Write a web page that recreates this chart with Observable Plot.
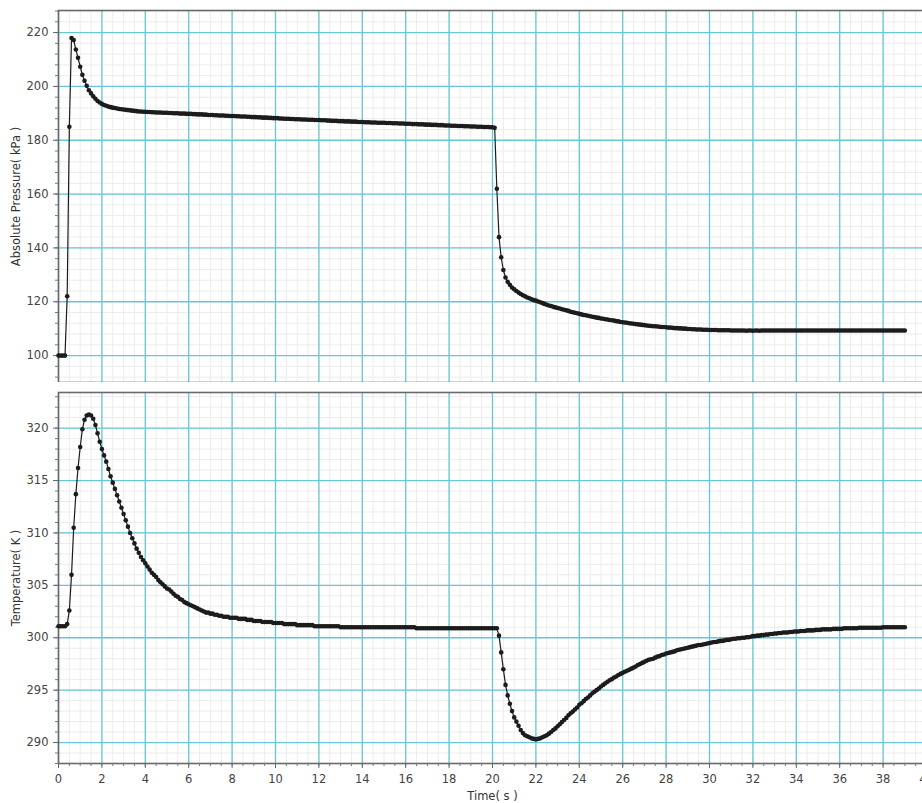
<!DOCTYPE html>
<html>
<head>
<meta charset="utf-8">
<script src="https://cdn.jsdelivr.net/npm/d3@7"></script>
<script src="https://cdn.jsdelivr.net/npm/@observablehq/plot@0.6"></script>
<style>
  html, body { margin: 0; padding: 0; background: #fff; overflow: hidden; }
  #chart { width: 922px; overflow: hidden; }
  #chart svg { display: block; max-width: none !important; }
</style>
</head>
<body>
<div id="chart"></div>
<script>
// ---- data (sampling interval 0.1 s, t = 0 … 39 s) ----
const sampleInterval = 0.1;

// Absolute pressure (kPa), one row per second
const pressure = [
  100,100,100,100,122,185,218,217.2,213.7,210.6,
  207.3,204.3,202.1,200.2,198.6,197.4,196.3,195.4,194.6,194.0,
  193.5,193.1,192.8,192.5,192.3,192.1,192.0,191.8,191.6,191.5,
  191.4,191.3,191.2,191.1,191.0,190.9,190.8,190.7,190.7,190.6,
  190.6,190.5,190.5,190.4,190.4,190.3,190.3,190.3,190.2,190.2,
  190.2,190.1,190.1,190.0,190.0,190.0,189.9,189.9,189.9,189.8,
  189.8,189.8,189.7,189.7,189.6,189.6,189.6,189.5,189.5,189.4,
  189.4,189.4,189.3,189.3,189.2,189.2,189.2,189.1,189.1,189.0,
  189.0,189.0,188.9,188.9,188.8,188.8,188.8,188.7,188.7,188.6,
  188.6,188.6,188.5,188.5,188.4,188.4,188.4,188.3,188.3,188.2,
  188.2,188.2,188.1,188.1,188.0,188.0,188.0,187.9,187.9,187.8,
  187.8,187.8,187.7,187.7,187.7,187.6,187.6,187.6,187.5,187.5,
  187.5,187.4,187.4,187.4,187.3,187.3,187.2,187.2,187.2,187.1,
  187.1,187.1,187.0,187.0,187.0,186.9,186.9,186.9,186.8,186.8,
  186.8,186.7,186.7,186.7,186.6,186.6,186.6,186.5,186.5,186.5,
  186.5,186.4,186.4,186.4,186.3,186.3,186.3,186.2,186.2,186.2,
  186.1,186.1,186.1,186.0,186.0,186.0,185.9,185.9,185.9,185.8,
  185.8,185.8,185.7,185.7,185.7,185.6,185.6,185.6,185.5,185.5,
  185.5,185.4,185.4,185.4,185.3,185.3,185.3,185.2,185.2,185.2,
  185.1,185.1,185.1,185.0,185.0,185.0,184.9,184.9,184.9,184.8,
  184.8,184.6,162,144,136.5,131.8,129.0,127.4,126.3,125.3,
  124.6,124.0,123.4,122.9,122.4,122.0,121.6,121.3,120.9,120.6,
  120.4,120.1,119.8,119.5,119.2,118.9,118.6,118.4,118.1,117.9,
  117.7,117.5,117.2,117.0,116.8,116.6,116.3,116.1,115.9,115.7,
  115.5,115.3,115.1,115.0,114.8,114.6,114.4,114.3,114.1,114.0,
  113.8,113.7,113.5,113.4,113.2,113.1,113.0,112.8,112.7,112.5,
  112.4,112.3,112.2,112.0,111.9,111.8,111.7,111.6,111.5,111.4,
  111.3,111.2,111.1,111.0,110.9,110.9,110.8,110.7,110.6,110.6,
  110.5,110.4,110.4,110.3,110.2,110.2,110.1,110.1,110.0,110.0,
  109.9,109.9,109.8,109.8,109.7,109.7,109.7,109.6,109.6,109.6,
  109.5,109.5,109.5,109.5,109.4,109.4,109.4,109.4,109.4,109.4,
  109.3,109.3,109.3,109.3,109.3,109.3,109.3,109.2,109.3,109.3,
  109.2,109.3,109.3,109.2,109.3,109.3,109.3,109.3,109.3,109.3,
  109.3,109.3,109.3,109.3,109.3,109.3,109.3,109.3,109.3,109.3,
  109.3,109.3,109.3,109.3,109.3,109.3,109.3,109.3,109.3,109.3,
  109.3,109.3,109.3,109.3,109.3,109.3,109.3,109.3,109.3,109.3,
  109.3,109.3,109.3,109.3,109.3,109.3,109.3,109.3,109.3,109.3,
  109.3,109.3,109.3,109.3,109.3,109.3,109.3,109.3,109.3,109.3,
  109.3,109.3,109.3,109.3,109.3,109.3,109.3,109.3,109.3,109.3,
  109.3
];

// Temperature (K), one row per second
const temperature = [
  301.1,301.1,301.1,301.1,301.3,302.6,306.0,310.5,313.7,316.2,
  318.2,319.9,320.8,321.2,321.3,321.2,320.9,320.3,319.5,318.7,
  318.0,317.4,316.8,316.1,315.4,314.8,314.2,313.6,313.0,312.4,
  311.8,311.2,310.6,310.0,309.5,309.0,308.5,308.1,307.7,307.4,
  307.1,306.8,306.5,306.2,306.0,305.8,305.5,305.3,305.1,304.9,
  304.7,304.6,304.4,304.2,304.0,303.9,303.7,303.6,303.4,303.3,
  303.2,303.1,303.0,302.9,302.8,302.7,302.6,302.5,302.4,302.4,
  302.3,302.3,302.2,302.2,302.1,302.1,302.0,302.0,302.0,301.9,
  301.9,301.9,301.9,301.8,301.8,301.8,301.8,301.7,301.7,301.7,
  301.6,301.6,301.6,301.6,301.5,301.5,301.5,301.5,301.5,301.4,
  301.4,301.4,301.4,301.4,301.3,301.3,301.3,301.3,301.3,301.3,
  301.2,301.2,301.2,301.2,301.2,301.2,301.2,301.2,301.1,301.1,
  301.1,301.1,301.1,301.1,301.1,301.1,301.1,301.1,301.1,301.1,
  301.0,301.0,301.0,301.0,301.0,301.0,301.0,301.0,301.0,301.0,
  301.0,301.0,301.0,301.0,301.0,301.0,301.0,301.0,301.0,301.0,
  301.0,301.0,301.0,301.0,301.0,301.0,301.0,301.0,301.0,301.0,
  301.0,301.0,301.0,301.0,301.0,300.9,300.9,300.9,300.9,300.9,
  300.9,300.9,300.9,300.9,300.9,300.9,300.9,300.9,300.9,300.9,
  300.9,300.9,300.9,300.9,300.9,300.9,300.9,300.9,300.9,300.9,
  300.9,300.9,300.9,300.9,300.9,300.9,300.9,300.9,300.9,300.9,
  300.9,300.9,300.9,300.2,298.6,297.0,295.5,294.5,293.7,293.0,
  292.4,292.0,291.6,291.2,290.9,290.7,290.6,290.5,290.4,290.35,
  290.3,290.35,290.4,290.5,290.6,290.7,290.85,291.0,291.2,291.35,
  291.55,291.75,291.95,292.15,292.35,292.6,292.8,292.95,293.15,293.35,
  293.6,293.75,293.95,294.15,294.3,294.5,294.7,294.85,295.0,295.15,
  295.35,295.5,295.65,295.8,295.95,296.05,296.2,296.3,296.45,296.55,
  296.65,296.75,296.85,296.95,297.05,297.15,297.25,297.4,297.5,297.6,
  297.7,297.8,297.9,297.95,298.0,298.1,298.2,298.25,298.35,298.4,
  298.5,298.55,298.6,298.65,298.7,298.8,298.85,298.9,298.95,299.0,
  299.05,299.1,299.15,299.2,299.25,299.3,299.3,299.35,299.4,299.45,
  299.5,299.55,299.6,299.6,299.65,299.7,299.7,299.75,299.8,299.8,
  299.85,299.9,299.9,299.95,299.95,300.0,300.0,300.05,300.05,300.1,
  300.15,300.15,300.2,300.2,300.25,300.25,300.3,300.3,300.35,300.35,
  300.4,300.4,300.45,300.45,300.5,300.5,300.5,300.55,300.55,300.6,
  300.6,300.6,300.65,300.65,300.65,300.7,300.7,300.7,300.7,300.75,
  300.75,300.75,300.8,300.8,300.8,300.8,300.8,300.85,300.85,300.85,
  300.85,300.85,300.9,300.9,300.9,300.9,300.9,300.9,300.9,300.95,
  300.95,300.95,300.95,300.95,300.95,300.95,300.95,300.95,300.95,300.95,
  301.0,301.0,301.0,301.0,301.0,301.0,301.0,301.0,301.0,301.0,
  301.0
];

// tick labels
const timeTicks = [0,2,4,6,8,10,12,14,16,18,20,22,24,26,28,30,32,34,36,38,40];
const pressureTicks = [100,120,140,160,180,200,220];
const temperatureTicks = [290,295,300,305,310,315,320];

// axis titles
const timeLabel = "Time( s )";
const pressureLabel = "Absolute Pressure( kPa )";
const temperatureLabel = "Temperature( K )";

// minor grid subdivisions
const timeMinor = d3.range(0, 40.001, 0.5);
const pressureMinor = d3.range(92, 228.001, 4);
const temperatureMinor = d3.range(288, 323.001, 1);

// ---- build ----
const rows = pressure.map((p, i) => ({
  t: +(i * sampleInterval).toFixed(2),
  p,
  T: temperature[i]
}));

const INK = "#1c1c1c";
const CYAN = "#66c8d7";
const MINOR = "#ececec";
const FRAME = "#6a6a6a";
const FONT = "'DejaVu Sans', Verdana, sans-serif";
const FS = 11.5;

function panel({height, marginTop, marginBottom, yDomain, yMajor, yMinor, yKey, yLabel, showX}) {
  const marks = [
    Plot.gridX(timeMinor, {stroke: MINOR, strokeOpacity: 1, strokeWidth: 1}),
    Plot.gridY(yMinor, {stroke: MINOR, strokeOpacity: 1, strokeWidth: 1}),
    Plot.gridX(timeTicks, {stroke: CYAN, strokeOpacity: 1, strokeWidth: 1.3}),
    Plot.gridY(yMajor, {stroke: CYAN, strokeOpacity: 1, strokeWidth: 1.3}),
    Plot.frame({stroke: FRAME, strokeWidth: 1.6}),
    Plot.axisY(yMinor, {tickSize: 3, tickFormat: () => "", stroke: "#777", label: null}),
    Plot.axisY(yMajor, {tickSize: 5, tickPadding: 5, stroke: "#666", fill: "#444", fontSize: FS, label: null}),
    Plot.line(rows, {x: "t", y: yKey, stroke: INK, strokeWidth: 1.2}),
    Plot.dot(rows, {x: "t", y: yKey, r: 2.3, symbol: "circle", fill: INK, stroke: "none"}),
    Plot.text([yLabel], {text: d => d, frameAnchor: "left", textAnchor: "middle", lineAnchor: "middle", dx: -42, rotate: -90, fontSize: FS, fill: "#333"})
  ];
  if (showX) {
    marks.push(
      Plot.axisX(timeMinor, {tickSize: 3, tickFormat: () => "", stroke: "#777", label: null}),
      Plot.axisX(timeTicks, {tickSize: 5, tickPadding: 6, stroke: "#666", fill: "#444", fontSize: FS, label: null}),
      Plot.text([timeLabel], {text: d => d, frameAnchor: "bottom", textAnchor: "middle", lineAnchor: "middle", dy: 33, fontSize: FS, fill: "#333"})
    );
  }
  return Plot.plot({
    width: 927,
    height,
    marginLeft: 58,
    marginRight: 1,
    marginTop,
    marginBottom,
    style: {fontFamily: FONT, fontSize: FS + "px", color: "#444", background: "#fff", maxWidth: "none"},
    x: {domain: [0, 40], axis: showX ? undefined : null, label: null},
    y: {domain: yDomain, label: null},
    marks
  });
}

const chart = document.getElementById("chart");
chart.append(panel({
  height: 382, marginTop: 10, marginBottom: 0,
  yDomain: [90, 228.2], yMajor: pressureTicks, yMinor: pressureMinor,
  yKey: "p", yLabel: pressureLabel, showX: false
}));
chart.append(panel({
  height: 421, marginTop: 10, marginBottom: 40,
  yDomain: [288, 323.4], yMajor: temperatureTicks, yMinor: temperatureMinor,
  yKey: "T", yLabel: temperatureLabel, showX: true
}));
</script>
</body>
</html>
